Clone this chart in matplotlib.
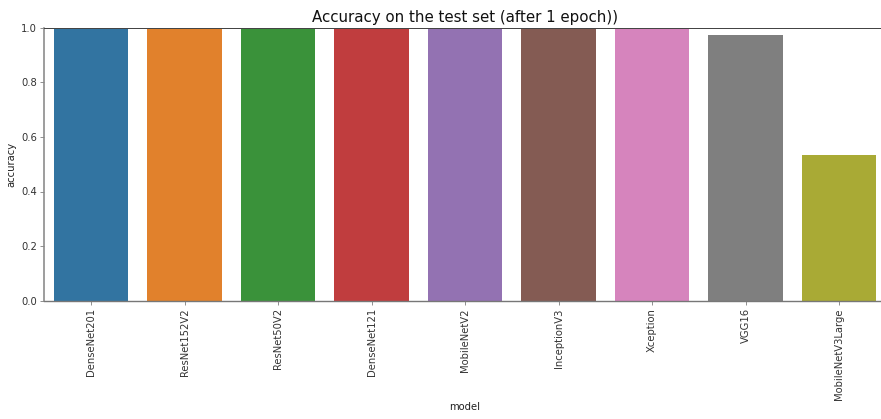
import matplotlib
matplotlib.use('Agg')
import matplotlib.pyplot as plt

models = ['DenseNet201', 'ResNet152V2', 'ResNet50V2', 'DenseNet121', 'MobileNetV2',
          'InceptionV3', 'Xception', 'VGG16', 'MobileNetV3Large']
accuracy = [1.0, 1.0, 1.0, 1.0, 1.0, 1.0, 1.0, 0.973, 0.533]
colors = ['#3274a1', '#e1812c', '#3a923a', '#c03d3e', '#9372b2',
          '#845b53', '#d684bd', '#7f7f7f', '#a9aa35']

W, H = 881, 419
fig = plt.figure(figsize=(W / 72, H / 72), dpi=72)
# axes runs a bit past the right edge of the picture, like the cropped original
ax = fig.add_axes([44.3 / W, 1 - 300.7 / H, 841.5 / W, 273.0 / H])

x = range(len(models))
ax.bar(x, accuracy, width=0.8, color=colors)
ax.set_xlim(-0.5, len(models) - 0.5)
ax.set_ylim(0, 1.0)
ax.set_xticks(list(x))
ax.set_xticklabels(models, rotation=90, fontsize=10)
ax.set_yticks([0.0, 0.2, 0.4, 0.6, 0.8, 1.0])
ax.set_yticklabels(['0.0', '0.2', '0.4', '0.6', '0.8', '1.0'], fontsize=10)
ax.tick_params(colors='#777777', labelcolor='#333333', length=4)

ax.set_xlabel('model', fontsize=10, color='#222222')
ax.xaxis.set_label_coords(0.5, -0.372)
ax.set_ylabel('accuracy', fontsize=10, color='#222222', labelpad=5)
ax.set_title('Accuracy on the test set (after 1 epoch))', fontsize=15, color='#111111', pad=6)

ax.spines['right'].set_visible(False)
ax.spines['left'].set_color('#888888')
ax.spines['left'].set_linewidth(1.6)
ax.spines['bottom'].set_color('#777777')
ax.spines['bottom'].set_linewidth(1.4)
ax.spines['top'].set_color('#444444')
ax.spines['top'].set_linewidth(1.0)

fig.savefig('out.png', dpi=72)
